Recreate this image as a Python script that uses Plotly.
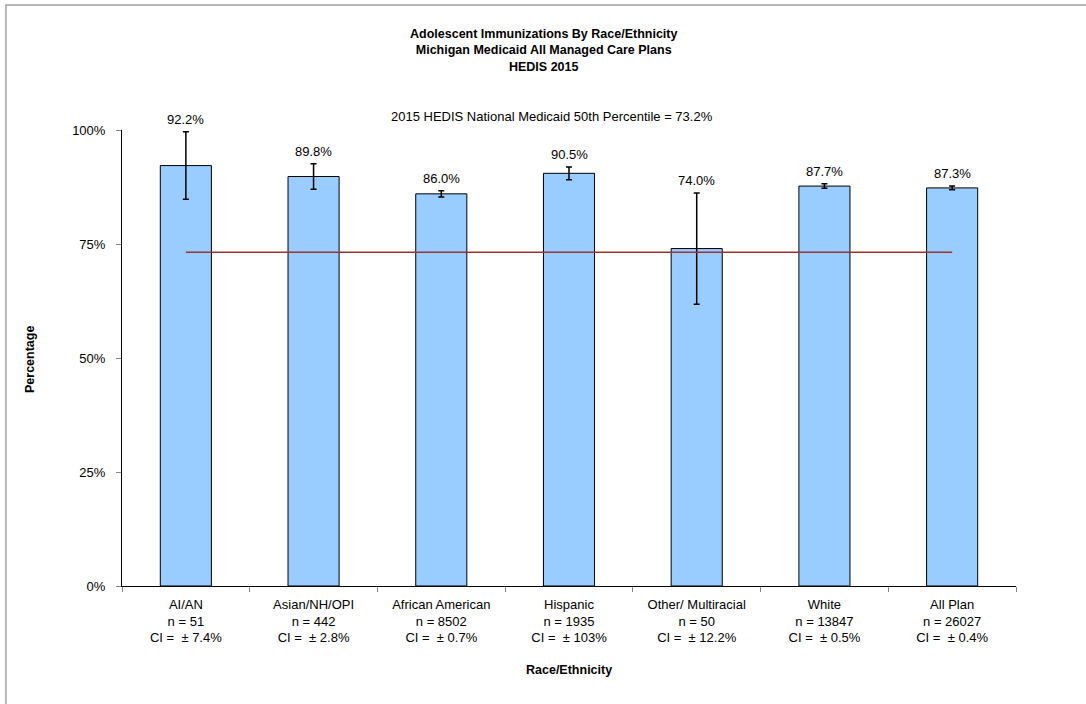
import plotly.graph_objects as go

categories = ["AI/AN", "Asian/NH/OPI", "African American", "Hispanic",
              "Other/ Multiracial", "White", "All Plan"]
rates = [92.2, 89.8, 86.0, 90.5, 74.0, 87.7, 87.3]
n_values = [51, 442, 8502, 1935, 50, 13847, 26027]
ci_labels = ["7.4%", "2.8%", "0.7%", "103%", "12.2%", "0.5%", "0.4%"]
ci_err = [7.4, 2.8, 0.7, 1.4, 12.2, 0.5, 0.4]
benchmark = 73.2
y_ticks = [0, 25, 50, 75, 100]
y_tick_labels = ["0%", "25%", "50%", "75%", "100%"]

FONT = "Liberation Sans, Arial, sans-serif"
W, H = 1086, 704
# target pixel positions in the page
PX_L, PX_R, PX_T, PX_B = 122, 1016, 130, 586
L, T = PX_L, PX_T
R, B = W - PX_R, H - PX_B
pw, ph = PX_R - PX_L, PX_B - PX_T


def px_x(x):
    return (x - PX_L) / pw


def px_y(y):
    return (PX_B - y) / ph


tick_text = [f"{c}<br>n = {n}<br>CI =  \u00b1 {ci}"
             for c, n, ci in zip(categories, n_values, ci_labels)]

fig = go.Figure()
fig.add_trace(go.Bar(
    x=categories, y=rates, width=0.4,
    marker=dict(color="#99ccff", line=dict(color="black", width=1)),
    error_y=dict(type="data", array=ci_err, visible=True,
                 color="black", thickness=1.5, width=3),
    showlegend=False, hoverinfo="skip",
))
fig.add_trace(go.Scatter(
    x=categories, y=[benchmark] * len(categories), mode="lines",
    line=dict(color="#993333", width=1.5), showlegend=False, hoverinfo="skip",
))

for c, v, e in zip(categories, rates, ci_err):
    fig.add_annotation(x=c, y=v + e, text=f"{v:.1f}%", showarrow=False,
                       yanchor="bottom", yshift=3,
                       font=dict(family=FONT, size=13, color="black"))

fig.add_annotation(xref="paper", yref="paper", x=px_x(552), y=px_y(116),
                   xanchor="center", yanchor="middle",
                   text=f"2015 HEDIS National Medicaid 50th Percentile = {benchmark}%",
                   showarrow=False, font=dict(family=FONT, size=13, color="black"))
fig.add_annotation(xref="paper", yref="paper", x=px_x(543), y=px_y(51),
                   xanchor="center", yanchor="middle",
                   text="<b>Adolescent Immunizations By Race/Ethnicity<br>"
                        "Michigan Medicaid All Managed Care Plans<br>HEDIS 2015</b>",
                   showarrow=False, align="center",
                   font=dict(family=FONT, size=12.5, color="black"))
fig.add_annotation(xref="paper", yref="paper", x=px_x(30), y=px_y(360),
                   xanchor="center", yanchor="middle",
                   text="<b>Percentage</b>", textangle=-90, showarrow=False,
                   font=dict(family=FONT, size=12.5, color="black"))
fig.add_annotation(xref="paper", yref="paper", x=px_x(569), y=px_y(670),
                   xanchor="center", yanchor="middle",
                   text="<b>Race/Ethnicity</b>", showarrow=False,
                   font=dict(family=FONT, size=12.5, color="black"))

fig.add_shape(type="rect", xref="paper", yref="paper",
              x0=px_x(6), x1=px_x(1095), y0=px_y(715), y1=px_y(5),
              line=dict(color="#a0a0a0", width=1.5), layer="below")

fig.update_layout(
    width=W, height=H,
    margin=dict(l=L, r=R, t=T, b=B, pad=0),
    plot_bgcolor="rgba(0,0,0,0)", paper_bgcolor="white",
    font=dict(family=FONT, size=13, color="black"),
)
fig.update_xaxes(
    tickmode="array", tickvals=categories, ticktext=tick_text,
    showline=True, linecolor="black", linewidth=1,
    ticks="outside", tickson="boundaries", ticklen=5, tickcolor="#888888",
    ticklabelstandoff=6,
    showgrid=False, tickfont=dict(family=FONT, size=13),
)
fig.update_yaxes(
    range=[0, 100], tickmode="array", tickvals=y_ticks, ticktext=y_tick_labels,
    showline=True, linecolor="black", linewidth=1,
    ticks="outside", ticklen=5, tickcolor="#888888", ticklabelstandoff=8,
    showgrid=False, zeroline=False, tickfont=dict(family=FONT, size=13),
)

fig.write_html(
    "out.html",
    config={"displayModeBar": False, "staticPlot": True},
    post_script="document.body.style.margin='0';document.body.style.overflow='hidden';",
)
